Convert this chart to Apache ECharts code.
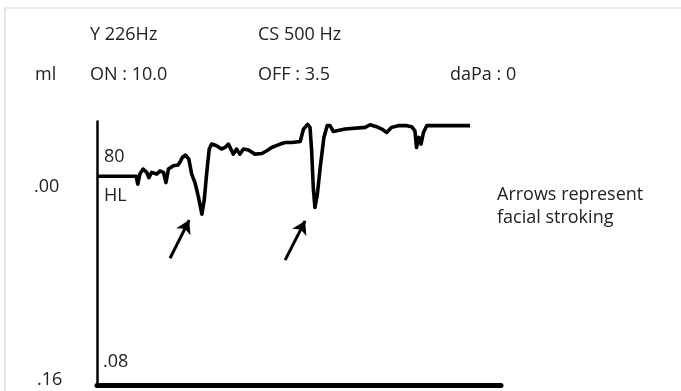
<!DOCTYPE html>
<html>
<head>
<meta charset="utf-8">
<script src="https://cdn.jsdelivr.net/npm/echarts@6/dist/echarts.min.js"></script>
<style>
  html, body { margin: 0; padding: 0; background: #fff; }
  #chart { width: 681px; height: 391px; }
</style>
</head>
<body>
<div id="chart"></div>
<script>
// trace: time (0-99 across the axis) and compliance change (ml, down = positive)
const traceTime = [0.2, 9.6, 10.0, 10.5, 11.3, 12.2, 12.7, 13.4, 14.6, 15.4, 16.3, 16.9, 17.5, 18.7, 19.8,
  20.3, 20.9, 21.7, 22.5, 23.2, 24.0, 24.8, 25.7, 26.3, 26.9, 27.5, 28.1, 29.3, 30.5, 31.4, 32.2, 33.4,
  34.2, 35.0, 35.9, 37.1, 38.7, 40.4, 41.6, 42.8, 44.9, 46.1, 47.7, 49.8, 50.6, 51.6, 52.2, 52.6, 53.0,
  53.4, 54.0, 54.7, 55.6, 56.4, 57.1, 57.9, 60.8, 65.7, 66.9, 68.5, 69.8, 71.0, 72.2, 73.8, 75.9, 77.1,
  77.9, 78.3, 78.9, 79.4, 80.0, 80.8, 91.4];
const traceMl = [0, 0, 0.006, -0.0017, -0.0055, -0.003, 0.001, -0.003, -0.0017, -0.004, -0.003, 0.0048,
  -0.0055, -0.008, -0.0086, -0.0106, -0.0144, -0.0163, -0.0132, -0.0017, 0.0048, 0.015, 0.029, 0.0175,
  -0.003, -0.0209, -0.0247, -0.0234, -0.0209, -0.0221, -0.0247, -0.017, -0.0209, -0.017, -0.0209, -0.0201,
  -0.017, -0.0175, -0.0196, -0.0221, -0.0247, -0.0259, -0.0259, -0.0267, -0.0362, -0.0398, -0.0375,
  -0.0196, 0.0086, 0.0239, 0.0137, -0.0068, -0.0298, -0.0388, -0.0388, -0.0344, -0.0362, -0.0375,
  -0.0395, -0.038, -0.0362, -0.0336, -0.0375, -0.0388, -0.0388, -0.038, -0.0349, -0.0221, -0.0298,
  -0.0247, -0.0336, -0.0388, -0.0388];

// arrows marking facial stroking: [tailTime, tailMl, headTime, headMl]
const arrows = [
  [17.9, 0.0628, 22.6, 0.0336],
  [46.1, 0.0643, 51.0, 0.0342]
];

const headerLabels = ['Y 226Hz', 'CS 500 Hz'];
const settingLabels = ['ml', 'ON : 10.0', 'OFF : 3.5', 'daPa : 0'];
const scaleLabels = ['.00', '.16', '80', 'HL', '.08'];
const noteLines = ['Arrows represent', 'facial stroking'];

const font = "'Open Sans', sans-serif";
const txt = (text, x, y) => ({
  type: 'text', x, y,
  style: { text, fill: '#222', font: '18px ' + font, verticalAlign: 'middle', align: 'left' }
});

const chart = echarts.init(document.getElementById('chart'));
chart.setOption({
  animation: false,
  grid: { left: 97, right: 180, top: 121.5, bottom: 6 },
  xAxis: {
    type: 'value', min: 0, max: 99,
    axisLine: { show: true, onZero: false, lineStyle: { color: '#000', width: 5 } },
    axisTick: { show: false }, axisLabel: { show: false }, splitLine: { show: false }
  },
  yAxis: {
    type: 'value', min: -0.042, max: 0.16, inverse: true,
    axisLine: { show: true, onZero: false, lineStyle: { color: '#000', width: 2.5 } },
    axisTick: { show: false }, axisLabel: { show: false }, splitLine: { show: false }
  },
  series: [{
    type: 'line',
    data: traceTime.map((t, i) => [t, traceMl[i]]),
    symbol: 'none',
    lineStyle: { color: '#000', width: 3.6, join: 'round' },
    markLine: {
      silent: true,
      symbol: ['none', 'arrow'],
      symbolSize: [12, 13],
      label: { show: false },
      lineStyle: { color: '#000', width: 3, type: 'solid' },
      data: arrows.map(a => [{ coord: [a[0], a[1]] }, { coord: [a[2], a[3]] }])
    }
  }],
  graphic: [
    { type: 'line', shape: { x1: 5, y1: 8, x2: 5, y2: 391 }, style: { stroke: '#dcdcdc', lineWidth: 1.5 } },
    { type: 'line', shape: { x1: 5, y1: 8, x2: 681, y2: 8 }, style: { stroke: '#e6e6e6', lineWidth: 1.5 } },
    txt(headerLabels[0], 90, 35),
    txt(headerLabels[1], 258, 35),
    txt(settingLabels[0], 35, 75),
    txt(settingLabels[1], 90, 75),
    txt(settingLabels[2], 258, 75),
    txt(settingLabels[3], 450, 75),
    txt(scaleLabels[0], 34, 187),
    txt(scaleLabels[1], 37, 380),
    txt(scaleLabels[2], 104, 157),
    txt(scaleLabels[3], 104, 196),
    txt(scaleLabels[4], 103, 362),
    txt(noteLines[0], 497, 195),
    txt(noteLines[1], 497, 218)
  ]
});
</script>
</body>
</html>
